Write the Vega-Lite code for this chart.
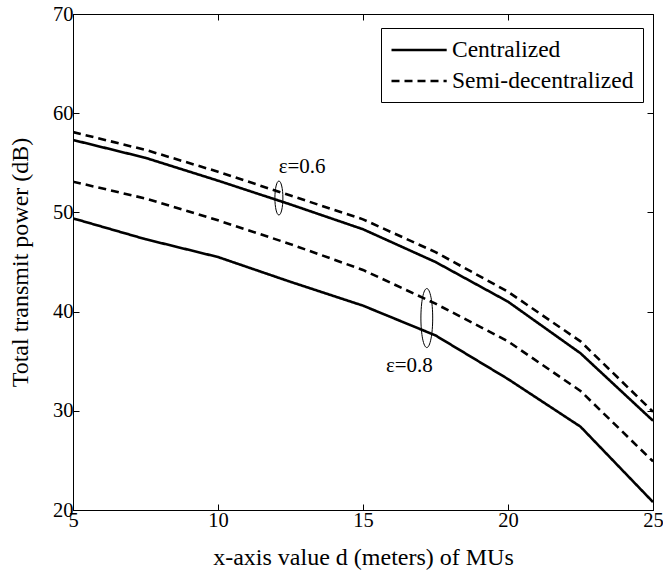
{
  "$schema": "https://vega.github.io/schema/vega-lite/v6.json",
  "width": 580,
  "height": 496,
  "autosize": {"type": "none"},
  "padding": {"left": 73, "top": 14, "right": 10, "bottom": 68},
  "background": "white",
  "config": {
    "font": "Liberation Serif",
    "view": {"stroke": "black", "strokeWidth": 1},
    "axis": {"grid": false, "domainColor": "black", "tickColor": "black", "labelColor": "black", "titleColor": "black", "labelFont": "Liberation Serif", "titleFont": "Liberation Serif", "labelFontSize": 20.5, "titleFontSize": 24, "titleFontWeight": "normal", "tickSize": -6, "tickWidth": 1},
    "legend": {"labelFont": "Liberation Serif"},
    "text": {"font": "Liberation Serif"}
  },
  "datasets": {
    "curves": [
      {"d": 5, "power": 57.3, "method": "Centralized", "eps": "0.6"},
      {"d": 7.5, "power": 55.5, "method": "Centralized", "eps": "0.6"},
      {"d": 10, "power": 53.2, "method": "Centralized", "eps": "0.6"},
      {"d": 12.5, "power": 50.8, "method": "Centralized", "eps": "0.6"},
      {"d": 15, "power": 48.3, "method": "Centralized", "eps": "0.6"},
      {"d": 17.5, "power": 45.0, "method": "Centralized", "eps": "0.6"},
      {"d": 20, "power": 41.0, "method": "Centralized", "eps": "0.6"},
      {"d": 22.5, "power": 35.8, "method": "Centralized", "eps": "0.6"},
      {"d": 25, "power": 29.0, "method": "Centralized", "eps": "0.6"},
      {"d": 5, "power": 58.1, "method": "Semi-decentralized", "eps": "0.6"},
      {"d": 7.5, "power": 56.3, "method": "Semi-decentralized", "eps": "0.6"},
      {"d": 10, "power": 54.1, "method": "Semi-decentralized", "eps": "0.6"},
      {"d": 12.5, "power": 51.7, "method": "Semi-decentralized", "eps": "0.6"},
      {"d": 15, "power": 49.3, "method": "Semi-decentralized", "eps": "0.6"},
      {"d": 17.5, "power": 46.0, "method": "Semi-decentralized", "eps": "0.6"},
      {"d": 20, "power": 42.0, "method": "Semi-decentralized", "eps": "0.6"},
      {"d": 22.5, "power": 37.0, "method": "Semi-decentralized", "eps": "0.6"},
      {"d": 25, "power": 29.9, "method": "Semi-decentralized", "eps": "0.6"},
      {"d": 5, "power": 53.1, "method": "Semi-decentralized", "eps": "0.8"},
      {"d": 7.5, "power": 51.4, "method": "Semi-decentralized", "eps": "0.8"},
      {"d": 10, "power": 49.2, "method": "Semi-decentralized", "eps": "0.8"},
      {"d": 12.5, "power": 46.8, "method": "Semi-decentralized", "eps": "0.8"},
      {"d": 15, "power": 44.2, "method": "Semi-decentralized", "eps": "0.8"},
      {"d": 17.5, "power": 40.8, "method": "Semi-decentralized", "eps": "0.8"},
      {"d": 20, "power": 37.0, "method": "Semi-decentralized", "eps": "0.8"},
      {"d": 22.5, "power": 32.0, "method": "Semi-decentralized", "eps": "0.8"},
      {"d": 25, "power": 24.9, "method": "Semi-decentralized", "eps": "0.8"},
      {"d": 5, "power": 49.4, "method": "Centralized", "eps": "0.8"},
      {"d": 7.5, "power": 47.3, "method": "Centralized", "eps": "0.8"},
      {"d": 10, "power": 45.5, "method": "Centralized", "eps": "0.8"},
      {"d": 12.5, "power": 43.0, "method": "Centralized", "eps": "0.8"},
      {"d": 15, "power": 40.6, "method": "Centralized", "eps": "0.8"},
      {"d": 17.5, "power": 37.6, "method": "Centralized", "eps": "0.8"},
      {"d": 20, "power": 33.2, "method": "Centralized", "eps": "0.8"},
      {"d": 22.5, "power": 28.4, "method": "Centralized", "eps": "0.8"},
      {"d": 25, "power": 20.8, "method": "Centralized", "eps": "0.8"}
    ],
    "notes": [
      {"d": 12.9, "power": 54.6, "label": "ε=0.6", "kind": "text"},
      {"d": 16.6, "power": 34.5, "label": "ε=0.8", "kind": "text"},
      {"d": 12.1, "power": 51.45, "label": "e06", "kind": "ellipse"},
      {"d": 17.2, "power": 39.35, "label": "e08", "kind": "ellipse"}
    ]
  },
  "layer": [
    {
      "data": {"name": "curves"},
      "mark": {"type": "line", "strokeWidth": 2.6, "color": "black", "clip": true},
      "encoding": {
        "x": {"field": "d", "type": "quantitative", "scale": {"domain": [5, 25], "nice": false, "zero": false}, "axis": {"orient": "bottom", "values": [5, 10, 15, 20, 25], "title": "x-axis value d (meters) of MUs", "titleFont": "Liberation Serif", "labelFont": "Liberation Serif", "labelPadding": 6, "titlePadding": 15, "labelFlush": false}},
        "y": {"field": "power", "type": "quantitative", "scale": {"domain": [20, 70], "nice": false, "zero": false}, "axis": {"orient": "left", "values": [20, 30, 40, 50, 60, 70], "title": "Total transmit power (dB)", "titleFont": "Liberation Serif", "labelFont": "Liberation Serif", "labelPadding": 6, "titlePadding": 20}},
        "strokeDash": {"field": "method", "type": "nominal", "scale": {"domain": ["Centralized", "Semi-decentralized"], "range": [[1, 0], [8, 5]]}, "legend": {"title": null, "orient": "none", "legendX": 308, "legendY": 14, "strokeColor": "black", "fillColor": "white", "padding": 9, "rowPadding": 6, "labelFont": "Liberation Serif", "labelFontSize": 23.5, "labelColor": "black", "symbolType": "M-1,0H3.8", "symbolSize": 529, "symbolStrokeWidth": 2.6, "symbolStrokeColor": "black", "symbolFillColor": "transparent", "labelLimit": 400, "labelOffset": 36, "cornerRadius": 0}},
        "detail": {"field": "eps", "type": "nominal"}
      }
    },
    {
      "data": {"name": "notes"},
      "transform": [{"filter": "datum.kind === 'text'"}],
      "mark": {"type": "text", "fontSize": 21, "color": "black", "font": "Liberation Serif"},
      "encoding": {
        "x": {"field": "d", "type": "quantitative", "scale": {"domain": [5, 25], "nice": false, "zero": false}, "axis": {"orient": "top", "values": [5, 10, 15, 20, 25], "labels": false, "title": null, "domain": false}},
        "y": {"field": "power", "type": "quantitative", "scale": {"domain": [20, 70], "nice": false, "zero": false}, "axis": {"orient": "right", "values": [20, 30, 40, 50, 60, 70], "labels": false, "title": null, "domain": false}},
        "text": {"field": "label", "type": "nominal"}
      }
    },
    {
      "data": {"name": "notes"},
      "transform": [{"filter": "datum.label === 'e06'"}],
      "mark": {"type": "point", "shape": "M0,-1C0.13,-1,0.235,-0.552,0.235,0C0.235,0.552,0.13,1,0,1C-0.13,1,-0.235,0.552,-0.235,0C-0.235,-0.552,-0.13,-1,0,-1Z", "size": 1156, "filled": false, "stroke": "black", "strokeWidth": 1, "opacity": 1},
      "encoding": {
        "x": {"field": "d", "type": "quantitative", "axis": null},
        "y": {"field": "power", "type": "quantitative", "axis": null}
      }
    },
    {
      "data": {"name": "notes"},
      "transform": [{"filter": "datum.label === 'e08'"}],
      "mark": {"type": "point", "shape": "M0,-1C0.11,-1,0.2,-0.552,0.2,0C0.2,0.552,0.11,1,0,1C-0.11,1,-0.2,0.552,-0.2,0C-0.2,-0.552,-0.11,-1,0,-1Z", "size": 3481, "filled": false, "stroke": "black", "strokeWidth": 1, "opacity": 1},
      "encoding": {
        "x": {"field": "d", "type": "quantitative", "axis": null},
        "y": {"field": "power", "type": "quantitative", "axis": null}
      }
    }
  ],
  "resolve": {"axis": {"x": "independent", "y": "independent"}}
}
